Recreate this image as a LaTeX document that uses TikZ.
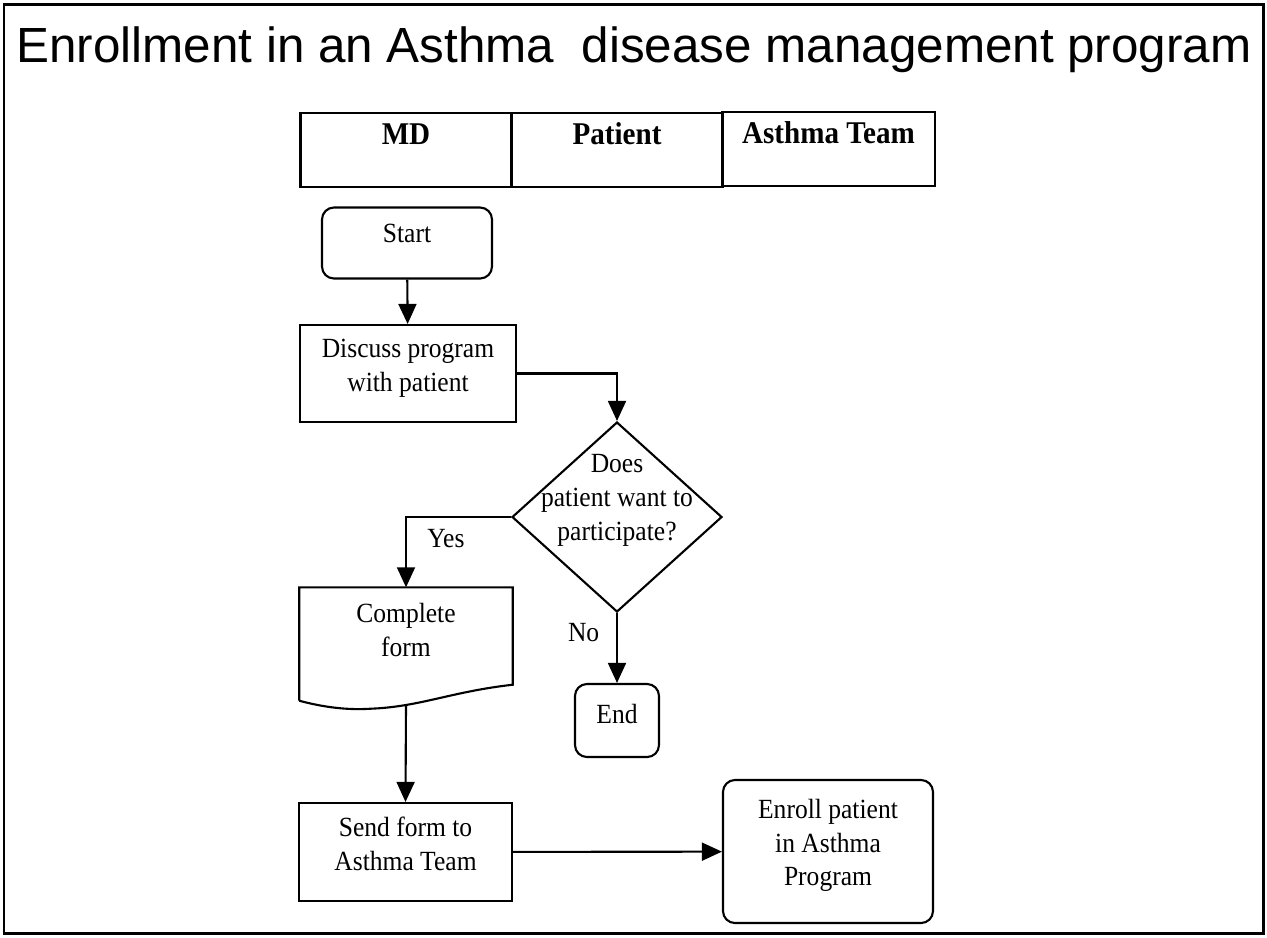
\documentclass[tikz,border=0pt]{standalone}
\usepackage{fontspec}
\setmainfont{Liberation Serif}[FakeStretch=0.92]
\setsansfont{Liberation Sans}
\usepackage{tikz}
\usetikzlibrary{positioning,shapes.geometric,arrows.meta}
\newcommand{\boxfont}{\fontsize{7.9pt}{9.6pt}\selectfont}
\newcommand{\lanefont}{\fontsize{9pt}{10pt}\selectfont\bfseries}
\newcommand{\titlefont}{\fontsize{14.05pt}{16pt}\selectfont\sffamily}
\newcommand{\lift}[1]{\rule[-#1]{0pt}{0pt}}

\begin{document}
\begin{tikzpicture}[
  line/.style={line width=0.6pt},
  box/.style={draw, line, align=center, font=\boxfont},
  roundbox/.style={box, rounded corners=3.4pt},
  lane/.style={draw, line, font=\lanefont, minimum width=2.11cm, minimum height=0.70cm,
               text height=0.20cm, text depth=0.31cm},
  arrow/.style={line, -{Triangle[length=5.7pt, width=5.1pt]}},
  lbl/.style={font=\boxfont},
]
  \useasboundingbox (0,0) rectangle (12.67,-9.37);
  \draw[line width=0.85pt] (0.04,-0.04) rectangle (12.63,-9.33);

  \node[font=\titlefont, anchor=base] (title) at (6.34,-0.62)
    {Enrollment in an Asthma~ disease management program};

  % swim lane headers
  \node[lane] (md) at (4.06,-1.50) {MD};
  \node[lane] (patient) at (6.17,-1.50) {Patient};
  \node[lane, minimum width=2.13cm, minimum height=0.68cm] (team) at (8.285,-1.49) {Asthma Team};

  \node[roundbox, minimum width=1.70cm, minimum height=0.71cm, text depth=0.19cm]
    (start) at (4.07,-2.43) {Start};
  \node[box, minimum width=2.16cm, minimum height=0.97cm]
    (discuss) at (4.08,-3.735) {Discuss program\\with patient\lift{0.16cm}};
  \node[draw, line, diamond, minimum width=2.10cm, minimum height=1.90cm, inner sep=0pt, font=\boxfont]
    (ask) at (6.17,-5.17)
    {\makebox[0pt]{\raisebox{0.10cm}[0pt][0pt]{\begin{tabular}{@{}c@{}}Does\\patient want to\\participate?\end{tabular}}}};

  % document shape, outline drawn below
  \node[align=center, font=\boxfont, minimum width=2.12cm, minimum height=0.84cm]
    (form) at (4.06,-6.30) {Complete\\form};
  \draw[line] ([yshift=-0.28cm]form.south west) -- (form.north west) -- (form.north east)
    -- ([yshift=-0.12cm]form.south east)
    .. controls +(-0.62,-0.07) and +(0.5,0.02) .. ([shift={(-1.42,-0.36)}]form.south east)
    .. controls +(-0.3,-0.02) and +(0.15,-0.04) .. ([yshift=-0.28cm]form.south west);

  \node[roundbox, minimum width=0.84cm, minimum height=0.73cm, text depth=0.14cm]
    (end) at (6.17,-7.205) {End};
  \node[box, minimum width=2.13cm, minimum height=0.98cm]
    (send) at (4.055,-8.52) {Send form to\\Asthma Team\lift{0.16cm}};
  \node[roundbox, minimum width=2.10cm, minimum height=1.43cm]
    (enroll) at (8.28,-8.515) {Enroll patient\\in Asthma\\Program\lift{0.18cm}};

  \draw[arrow] (start) -- (discuss);
  \draw[arrow] (discuss.east) -| (ask.north);
  \draw[arrow] (ask.west) -| (form.north) node[lbl, below, pos=0.31] {Yes};
  \draw[arrow] (ask.south) -- (end.north) node[lbl, left=0.05cm, pos=0.28] {No};
  \draw[arrow] ([yshift=-0.32cm]form.south) -- (send.north);
  \draw[arrow] (send) -- (enroll);
\end{tikzpicture}
\end{document}
